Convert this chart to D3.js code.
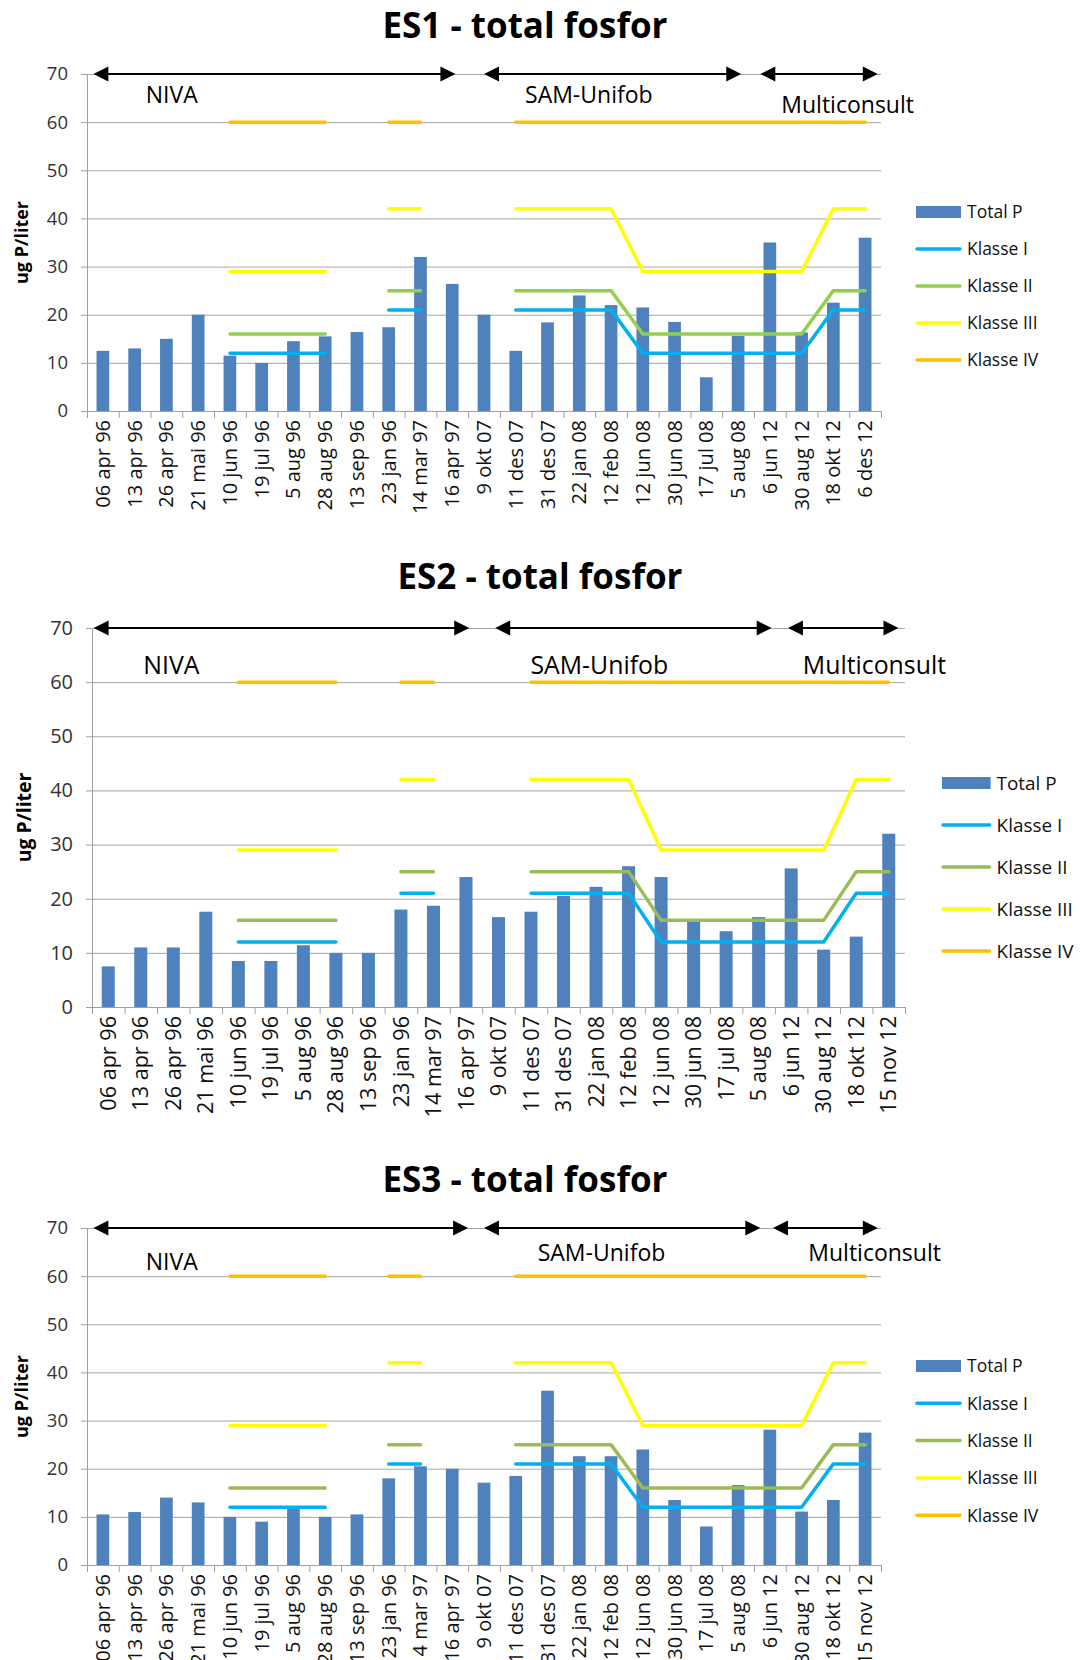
<!DOCTYPE html>
<html>
<head>
<meta charset="utf-8">
<script src="https://cdn.jsdelivr.net/npm/d3@7/dist/d3.min.js"></script>
<style>
  body { margin: 0; background: #fff; }
  svg text { font-family: "Open Sans", sans-serif; }
</style>
</head>
<body>
<div id="chart"></div>
<script>

// sampling dates (ES1 ends 6 des 12, ES2/ES3 end 15 nov 12)
var datesES1 = ["06 apr 96", "13 apr 96", "26 apr 96", "21 mai 96", "10 jun 96", "19 jul 96",
    "5 aug 96", "28 aug 96", "13 sep 96", "23 jan 96", "14 mar 97", "16 apr 97", "9 okt 07",
    "11 des 07", "31 des 07", "22 jan 08", "12 feb 08", "12 jun 08", "30 jun 08", "17 jul 08",
    "5 aug 08", "6 jun 12", "30 aug 12", "18 okt 12", "6 des 12"];
var datesES23 = datesES1.slice(0, 24).concat(["15 nov 12"]);

// total P, ug P/liter
var totalES1 = [12.5, 13, 15, 20, 11.5, 10, 14.5, 15.5, 16.4, 17.4, 32, 26.4, 20,
    12.5, 18.4, 24, 22, 21.5, 18.5, 7, 15.6, 35, 16.3, 22.5, 36];
var totalES2 = [7.5, 11, 11, 17.6, 8.5, 8.5, 11.4, 10, 10, 18, 18.7, 24, 16.6,
    17.6, 20.5, 22.2, 26, 24, 16, 14, 16.6, 25.6, 10.6, 13, 32];
var totalES3 = [10.5, 11, 14, 13, 10, 9, 12, 10, 10.5, 18, 20.5, 20, 17.1,
    18.5, 36.2, 22.6, 22.6, 24, 13.5, 8, 16.6, 28.1, 11.1, 13.5, 27.5];

// class limits (null = no limit drawn)
var klasseI   = [null, null, null, null, 12, 12, 12, 12, null, 21, 21, null, null,
    21, 21, 21, 21, 12, 12, 12, 12, 12, 12, 21, 21];
var klasseII  = [null, null, null, null, 16, 16, 16, 16, null, 25, 25, null, null,
    25, 25, 25, 25, 16, 16, 16, 16, 16, 16, 25, 25];
var klasseIII = [null, null, null, null, 29, 29, 29, 29, null, 42, 42, null, null,
    42, 42, 42, 42, 29, 29, 29, 29, 29, 29, 42, 42];
var klasseIV  = [null, null, null, null, 60, 60, 60, 60, null, 60, 60, null, null,
    60, 60, 60, 60, 60, 60, 60, 60, 60, 60, 60, 60];

var yTicks = [0, 10, 20, 30, 40, 50, 60, 70];
var periods = ["NIVA", "SAM-Unifob", "Multiconsult"];
var legendNames = ["Total P", "Klasse I", "Klasse II", "Klasse III", "Klasse IV"];

var charts = [
    {
        title: "ES1 - total fosfor", dates: datesES1, values: totalES1,
        left: 87, right: 881, top: 74, bottom: 411, titleX: 525, titleY: 38, yTitleX: 22,
        green: "#92D050", fs: 1, legendX: 916, legendY: 212, legendStep: 37,
        arrows: [[0.2, 11.6], [12.5, 20.6], [21.2, 24.9]],
        notes: [[2.67, 65.6], [15.8, 65.6], [23.95, 63.6]]
    },
    {
        title: "ES2 - total fosfor", dates: datesES23, values: totalES2,
        left: 92, right: 905, top: 628, bottom: 1007, titleX: 540, titleY: 589, yTitleX: 24,
        green: "#9BBB59", fs: 1.08, legendX: 942, legendY: 783, legendStep: 42,
        arrows: [[0.05, 11.6], [12.4, 20.9], [21.4, 24.8]],
        notes: [[2.44, 63.2], [15.6, 63.2], [24.06, 63.2]]
    },
    {
        title: "ES3 - total fosfor", dates: datesES23, values: totalES3,
        left: 87, right: 881, top: 1228, bottom: 1565, titleX: 525, titleY: 1192, yTitleX: 22,
        green: "#9BBB59", fs: 1, legendX: 916, legendY: 1366, legendStep: 37.3,
        arrows: [[0.2, 12.0], [12.5, 21.2], [21.6, 24.9]],
        notes: [[2.67, 62.9], [16.2, 64.9], [24.8, 64.9]]
    }
];

var svg = d3.select("#chart").append("svg")
    .attr("width", 1080)
    .attr("height", 1660);

charts.forEach(drawChart);

function drawChart(c) {
    var g = svg.append("g");
    var n = c.dates.length;
    var idx = d3.range(n);

    var x = d3.scaleBand().domain(idx).range([c.left, c.right]);
    var bx = d3.scaleLinear().domain([0, n]).range([c.left, c.right]);
    var y = d3.scaleLinear().domain([0, 70]).range([c.bottom, c.top]);

    var lineColors = ["#00B0F0", c.green, "#FFFF00", "#FFC000"];

    // gridlines
    g.append("g")
        .attr("transform", "translate(" + c.left + ",0)")
        .call(d3.axisLeft(y).tickValues(yTicks.slice(1)).tickSize(-(c.right - c.left)).tickFormat(""))
        .call(function (s) {
            s.select(".domain").remove();
            s.selectAll("line").attr("stroke", "#a6a6a6");
        });

    // y axis
    g.append("g")
        .attr("transform", "translate(" + c.left + ",0)")
        .call(d3.axisLeft(y).tickValues(yTicks).tickSize(6).tickPadding(13).tickSizeOuter(0))
        .call(function (s) {
            s.select(".domain").attr("stroke", "#a0a0a0");
            s.selectAll("line").attr("stroke", "#a0a0a0");
            s.selectAll("text")
                .attr("font-family", "DejaVu Sans")
                .attr("font-size", 18.5 * c.fs)
                .attr("fill", "#333");
        });

    // bars
    var bw = x.bandwidth() * 0.4;
    g.selectAll(".bar")
        .data(c.values)
        .enter()
        .append("rect")
        .attr("class", "bar")
        .attr("x", function (d, i) { return x(i) + x.bandwidth() / 2 - bw / 2; })
        .attr("y", function (d) { return y(d); })
        .attr("width", bw)
        .attr("height", function (d) { return c.bottom - y(d); })
        .attr("fill", "#4F81BD");

    // x axis: category boundary ticks
    g.append("g")
        .attr("transform", "translate(0," + c.bottom + ")")
        .call(d3.axisBottom(bx).ticks(n).tickSize(7).tickFormat("").tickSizeOuter(0))
        .call(function (s) {
            s.select(".domain").attr("stroke", "#a0a0a0");
            s.selectAll("line").attr("stroke", "#a0a0a0");
        });

    // x labels
    g.append("g")
        .attr("transform", "translate(0," + c.bottom + ")")
        .call(d3.axisBottom(x).tickSize(0).tickFormat(function (i) { return c.dates[i]; }))
        .call(function (s) {
            s.select(".domain").remove();
            s.selectAll("text")
                .attr("transform", "rotate(-90)")
                .attr("x", -9)
                .attr("y", 0)
                .attr("dy", "0.35em")
                .attr("text-anchor", "end")
                .attr("font-family", "Lato")
                .attr("font-size", 20 * c.fs)
                .attr("fill", "#111");
        });

    // class lines
    var line = d3.line()
        .defined(function (d) { return d != null; })
        .x(function (d, i) { return x(i) + x.bandwidth() / 2; })
        .y(function (d) { return y(d); });

    [klasseI, klasseII, klasseIII, klasseIV].forEach(function (k, j) {
        g.append("path")
            .datum(k)
            .attr("d", line)
            .attr("fill", "none")
            .attr("stroke", lineColors[j])
            .attr("stroke-width", 3.5)
            .attr("stroke-linecap", "round")
            .attr("stroke-linejoin", "round");
    });

    // period arrows
    var step = x.step();
    var head = 15;
    c.arrows.forEach(function (a) {
        var x1 = c.left + a[0] * step, x2 = c.left + a[1] * step, ya = y(70);
        g.append("line")
            .attr("x1", x1 + head - 2).attr("x2", x2 - head + 2)
            .attr("y1", ya).attr("y2", ya)
            .attr("stroke", "#000").attr("stroke-width", 2.2);
        g.append("path")
            .attr("d", "M" + x1 + "," + ya + "L" + (x1 + head) + "," + (ya - 7.5) + "L" + (x1 + head) + "," + (ya + 7.5) + "Z")
            .attr("fill", "#000");
        g.append("path")
            .attr("d", "M" + x2 + "," + ya + "L" + (x2 - head) + "," + (ya - 7.5) + "L" + (x2 - head) + "," + (ya + 7.5) + "Z")
            .attr("fill", "#000");
    });

    g.selectAll(".note")
        .data(c.notes)
        .enter()
        .append("text")
        .attr("x", function (d) { return c.left + d[0] * step; })
        .attr("y", function (d) { return y(d[1]); })
        .attr("dy", "0.35em")
        .attr("text-anchor", "middle")
        .attr("font-size", 23 * c.fs)
        .attr("fill", "#000")
        .text(function (d, i) { return periods[i]; });

    // title
    g.append("text")
        .attr("x", c.titleX)
        .attr("y", c.titleY)
        .attr("text-anchor", "middle")
        .attr("font-size", 35)
        .attr("font-weight", "bold")
        .attr("fill", "#000")
        .text(c.title);

    // y title
    g.append("text")
        .attr("transform", "translate(" + c.yTitleX + "," + ((c.top + c.bottom) / 2) + ") rotate(-90)")
        .attr("dy", "0.35em")
        .attr("text-anchor", "middle")
        .attr("font-size", 18 * c.fs)
        .attr("font-weight", "bold")
        .attr("fill", "#000")
        .text("ug P/liter");

    // legend
    var sw = 45 * c.fs;
    var leg = g.append("g").attr("transform", "translate(" + c.legendX + "," + c.legendY + ")");
    legendNames.forEach(function (name, i) {
        var row = leg.append("g").attr("transform", "translate(0," + (i * c.legendStep) + ")");
        if (i === 0) {
            row.append("rect").attr("x", 0).attr("y", -6).attr("width", sw).attr("height", 12).attr("fill", "#4F81BD");
        } else {
            row.append("line").attr("x1", 1).attr("x2", sw - 1).attr("y1", 0).attr("y2", 0)
                .attr("stroke", lineColors[i - 1]).attr("stroke-width", 3.5).attr("stroke-linecap", "round");
        }
        row.append("text")
            .attr("x", sw + 6)
            .attr("y", 0)
            .attr("dy", "0.36em")
            .attr("font-family", "DejaVu Sans")
            .attr("font-size", 17.5 * c.fs)
            .attr("fill", "#111")
            .text(name);
    });
}
</script>
</body>
</html>
